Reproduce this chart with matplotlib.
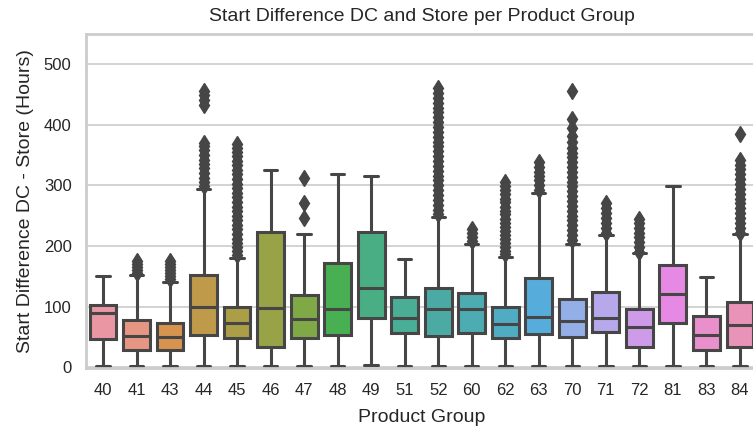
import colorsys
import matplotlib
matplotlib.use("Agg")
import matplotlib.pyplot as plt
import seaborn as sns

groups = ["40", "41", "43", "44", "45", "46", "47", "48", "49", "51",
          "52", "60", "62", "63", "70", "71", "72", "81", "83", "84"]
q1 = [46, 28.5, 28.5, 54, 48, 34, 49, 53, 80.7, 57,
      52, 57, 48, 54.4, 50.5, 58.7, 34, 73.6, 28.5, 34]
med = [90, 52, 49.5, 99, 72.5, 97, 79, 95.5, 130, 82,
       96, 96, 71.4, 83.4, 77, 82, 66, 120.8, 53, 69.7]
q3 = [102.7, 78, 73.5, 152, 100, 222.5, 119, 172.5, 222.5, 116.4,
      130, 123, 100, 146.7, 112, 124.6, 95.6, 168.6, 84.6, 108]
whislo = [2, 2, 2, 2, 2, 2, 2, 2, 4, 2,
          2, 2, 2, 2, 2, 2, 2, 2, 2, 2]
whishi = [150, 152, 141, 294, 180, 325, 220, 318, 316, 178,
          248, 203, 181, 287, 204, 218, 188, 298, 148, 220]
fliers = [
    [],
    [155, 160, 165, 170, 175],
    [145, 150, 155, 160, 165, 170, 175],
    [298, 305, 312, 320, 328, 335, 342, 350, 358, 365, 370, 432, 440, 448, 455],
    [185, 192, 198, 205, 212, 220, 228, 235, 242, 250, 258, 265, 272, 280, 288,
     295, 302, 310, 318, 325, 333, 340, 348, 355, 362, 368],
    [],
    [246, 270, 312],
    [],
    [],
    [],
    [252, 260, 268, 276, 284, 292, 300, 308, 316, 324, 332, 340, 348, 356, 364,
     372, 380, 388, 396, 404, 412, 420, 428, 436, 444, 452, 460],
    [208, 215, 222, 228],
    [186, 192, 198, 205, 212, 218, 225, 232, 238, 245, 252, 258, 265, 272, 278,
     285, 292, 298, 305],
    [292, 300, 308, 315, 322, 330, 338],
    [210, 218, 226, 234, 242, 250, 258, 266, 274, 282, 290, 298, 306, 314, 322,
     330, 338, 346, 354, 362, 372, 382, 395, 410, 455],
    [222, 230, 238, 246, 254, 262, 270],
    [190, 198, 206, 214, 222, 230, 238, 245],
    [],
    [],
    [222, 230, 238, 246, 254, 262, 270, 278, 286, 294, 302, 310, 318, 326, 334,
     342, 385],
]

sns.set_style("whitegrid")
plt.rcParams['font.family'] = ['Liberation Sans', 'DejaVu Sans']

fig = plt.figure(figsize=(7.53, 4.30), dpi=100)
ax = fig.add_axes([0.1145, 0.1437, 0.8904, 0.7782])

base = sns.husl_palette(len(groups), l=.7)
palette = [sns.desaturate(c, 0.75) for c in base]
lum = min(colorsys.rgb_to_hls(*c)[1] for c in palette) * 0.6
line_c = (lum, lum, lum)
lw = 2.2

stats = []
for i, g in enumerate(groups):
    stats.append(dict(label=g, q1=q1[i], med=med[i], q3=q3[i],
                      whislo=whislo[i], whishi=whishi[i], fliers=fliers[i]))

positions = list(range(len(groups)))
bp = ax.bxp(stats, positions=positions, widths=0.8, patch_artist=True,
            boxprops=dict(edgecolor=line_c, linewidth=lw),
            medianprops=dict(color=line_c, linewidth=lw),
            whiskerprops=dict(color=line_c, linewidth=lw),
            capprops=dict(color=line_c, linewidth=lw),
            flierprops=dict(marker='d', markerfacecolor=line_c, markeredgecolor=line_c,
                            markersize=8, linestyle='none'))
for patch, c in zip(bp['boxes'], palette):
    patch.set_facecolor(c)

ax.set_xlim(-0.5, len(groups) - 0.5)
ax.set_ylim(-1.5, 550)
ax.set_yticks([0, 100, 200, 300, 400, 500])
ax.set_xticks(positions)
ax.set_xticklabels(groups)
ax.tick_params(axis='both', labelsize=12, colors='#262626', pad=7)
ax.grid(True, axis='y', color='#cccccc', linewidth=1.2)
ax.grid(False, axis='x')
for s in ax.spines.values():
    s.set_color('#cccccc')
    s.set_linewidth(2)
ax.set_axisbelow(True)

ax.set_xlabel("Product Group", fontsize=14, color='#262626', labelpad=8)
ax.set_ylabel("Start Difference DC - Store (Hours)", fontsize=14, color='#262626', labelpad=7)
ax.set_title("Start Difference DC and Store per Product Group", fontsize=14, color='#262626', pad=9)

fig.savefig("out.png", dpi=100)
